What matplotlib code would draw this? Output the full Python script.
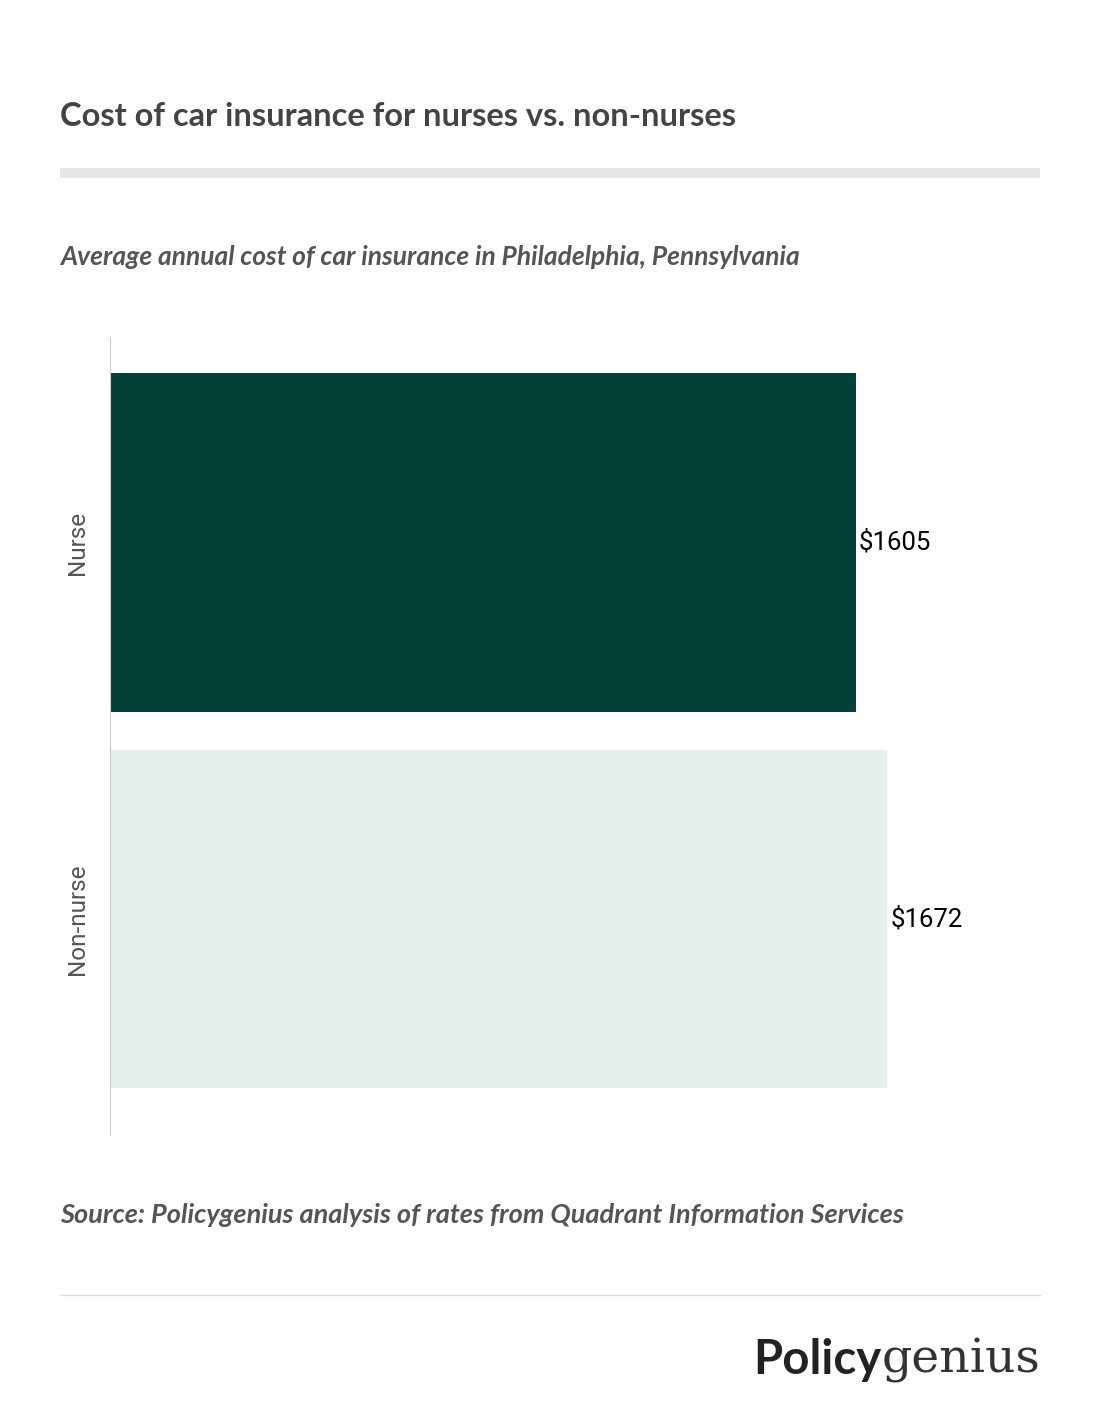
import matplotlib.pyplot as plt
from matplotlib.lines import Line2D

categories = ['Nurse', 'Non-nurse']
costs = [1605, 1672]
colors = ['#03403a', '#e3f0ee']

W, H = 1100, 1426
fig = plt.figure(figsize=(W / 100, H / 100), dpi=100)
fig.patch.set_facecolor('white')

def fy(py):
    return 1 - py / H

ax = fig.add_axes([110 / W, fy(1135), (1040 - 110) / W, (1135 - 337) / H])
ax.barh(range(len(costs)), costs, height=0.9, color=colors)
ax.set_xlim(0, 2000)
ax.set_ylim(1.574, -0.546)
for i, v in enumerate(costs):
    ax.text(v + 6, i, f'${v}', va='center', ha='left', fontsize=18.5, family='Roboto')
ax.set_yticks(range(len(categories)))
ax.set_yticklabels(categories, rotation=90, va='center', fontsize=17.5, color='#555555', family='Roboto')
ax.tick_params(axis='y', length=0, pad=15)
ax.set_xticks([])
for s in ['top', 'right', 'bottom']:
    ax.spines[s].set_visible(False)
ax.spines['left'].set_color('#cccccc')

fig.text(60 / W, fy(117), 'Cost of car insurance for nurses vs. non-nurses', fontsize=23.5,
         fontweight='bold', color='#444444', va='center', family='Lato')
fig.add_artist(Line2D([60 / W, 1040 / W], [fy(173)] * 2, color='#e6e6e6', lw=7,
                      solid_capstyle='butt'))
fig.text(60 / W, fy(257), 'Average annual cost of car insurance in Philadelphia, Pennsylvania',
         fontsize=19, fontweight='bold', style='italic', color='#555555', va='center', family='Lato')
fig.text(60 / W, fy(1215), 'Source: Policygenius analysis of rates from Quadrant Information Services',
         fontsize=19.5, fontweight='bold', style='italic', color='#555555', va='center', family='Lato')
fig.add_artist(Line2D([60 / W, 1040 / W], [fy(1295)] * 2, color='#dddddd', lw=1))

t1 = fig.text(1040 / W, fy(1360), 'genius', fontsize=34, family='DejaVu Serif',
              color='#333333', ha='right', va='center')
fig.canvas.draw()
bb = t1.get_window_extent()
fig.text(bb.x0 / W, fy(1360), 'Policy', fontsize=34, fontweight='bold', family='Lato',
         color='#222222', ha='right', va='center')

fig.savefig('out.png', dpi=100, facecolor='white')
